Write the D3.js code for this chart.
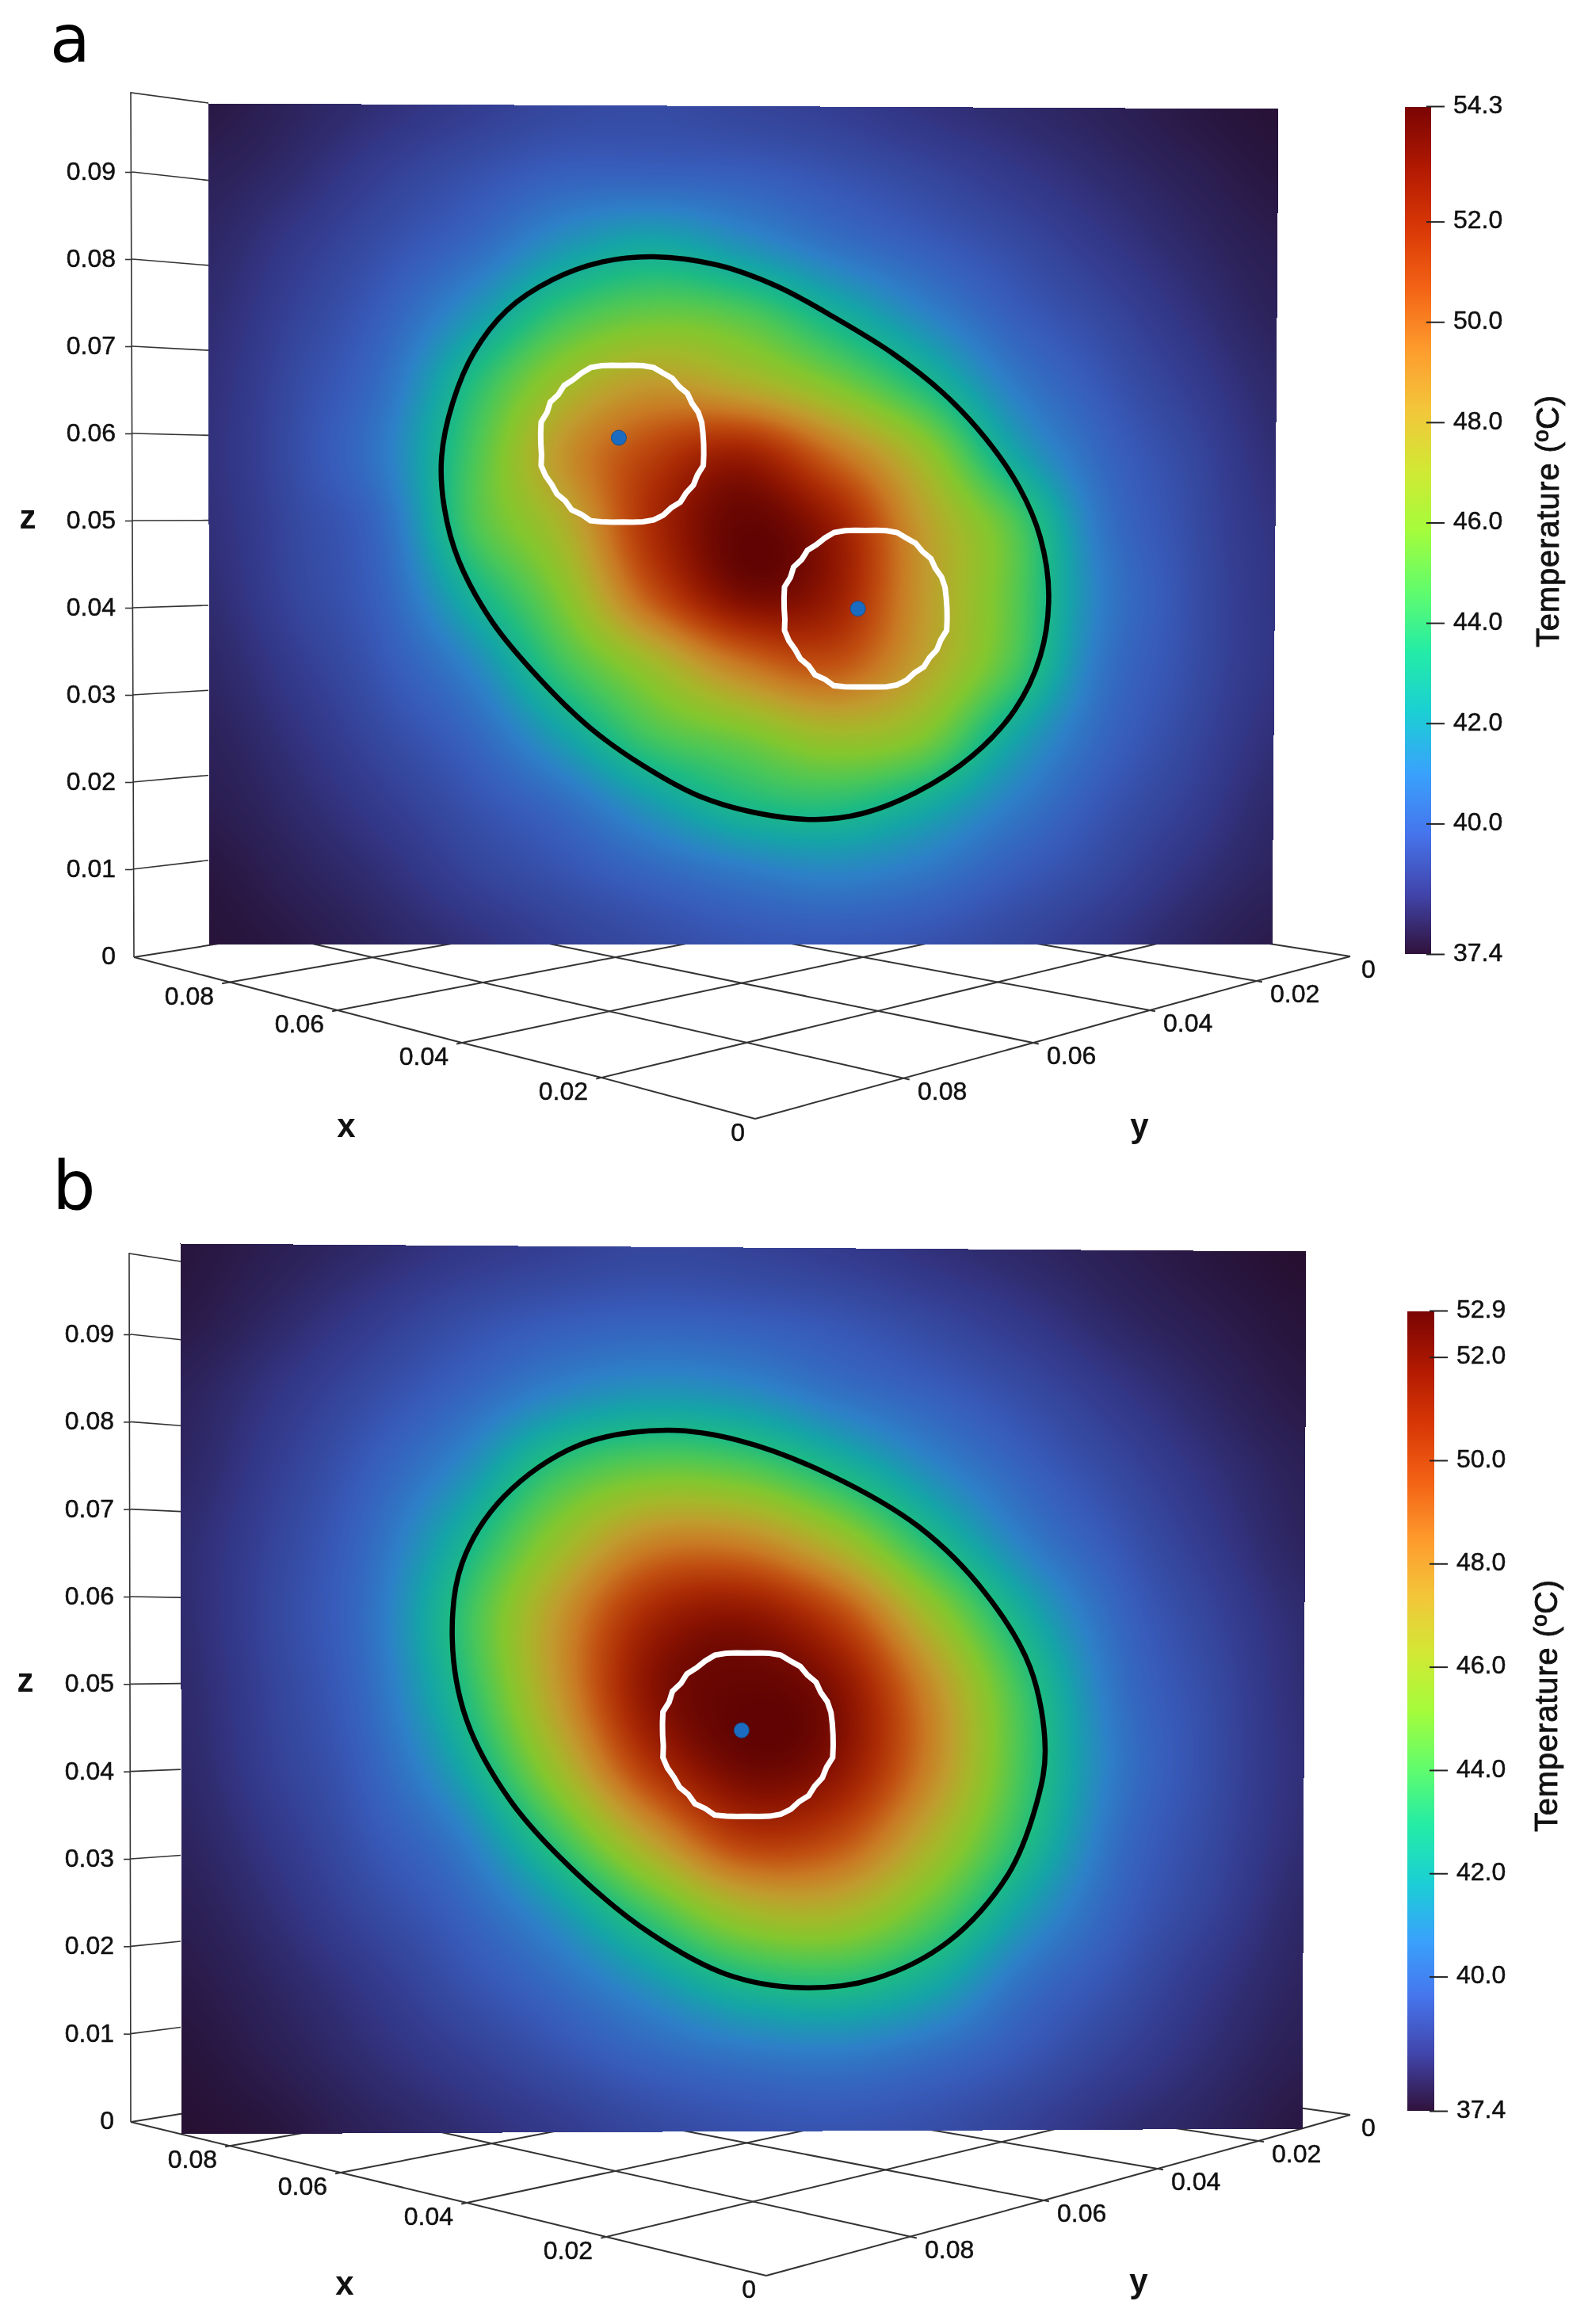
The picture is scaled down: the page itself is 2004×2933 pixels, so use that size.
<!DOCTYPE html>
<html>

<head>
    <meta charset="UTF-8">
    <title>Temperature maps - D3.js</title>
    <script src="https://d3js.org/d3.v7.min.js"></script>
    <style>
        body {
            margin: 0;
            background: white;
        }

        svg {
            display: block;
            filter: blur(0.6px);
        }

        text {
            font-family: "Liberation Sans", Arial, sans-serif;
            fill: #111;
        }

        .tick-label {
            font-size: 32px;
            stroke: #111;
            stroke-width: 0.5px;
        }

        .axis-name {
            font-size: 42px;
            font-weight: bold;
        }

        .panel-letter {
            font-family: "DejaVu Sans", sans-serif;
            fill: black;
        }

        .cbar-title {
            font-size: 40px;
            stroke: #111;
            stroke-width: 0.8px;
        }
    </style>
</head>

<body>
    <div id="chart"></div>

    <script>
        // Temperature (deg C), rows top to bottom, columns left to right
        var tempsA = [
            [37.7, 38.05, 38.4, 38.8, 39.15, 39.25, 39.05, 38.85, 38.5, 38.25, 38.0, 37.7, 37.5],
            [37.95, 38.3, 38.9, 39.45, 39.95, 40.0, 39.9, 39.55, 39.15, 38.7, 38.3, 37.95, 37.65],
            [38.15, 38.7, 39.4, 40.25, 41.7, 42.45, 41.6, 40.6, 39.9, 39.3, 38.7, 38.2, 37.85],
            [38.3, 39.0, 39.95, 41.8, 44.2, 45.3, 44.8, 43.0, 41.3, 39.95, 39.2, 38.5, 38.0],
            [38.4, 39.25, 40.5, 43.7, 46.8, 48.4, 47.6, 45.9, 43.6, 41.0, 39.7, 38.85, 38.2],
            [38.45, 39.35, 40.9, 44.6, 48.6, 51.2, 52.6, 50.0, 46.8, 42.6, 40.25, 39.2, 38.35],
            [38.4, 39.2, 40.4, 44.6, 47.4, 52.0, 54.2, 52.8, 48.4, 45.0, 40.8, 39.35, 38.5],
            [38.3, 39.1, 40.1, 43.0, 46.0, 50.6, 53.6, 52.8, 48.6, 45.2, 41.1, 39.45, 38.55],
            [38.15, 38.8, 39.7, 41.3, 44.3, 46.8, 49.5, 50.6, 48.1, 44.8, 40.8, 39.4, 38.55],
            [38.0, 38.5, 39.25, 40.2, 42.2, 44.5, 45.6, 46.8, 46.0, 42.6, 40.3, 39.2, 38.4],
            [37.85, 38.25, 38.8, 39.5, 40.35, 41.9, 43.3, 43.7, 42.7, 41.0, 39.7, 38.9, 38.2],
            [37.65, 38.0, 38.4, 39.0, 39.5, 40.1, 40.7, 41.1, 40.7, 39.85, 39.2, 38.5, 38.05],
            [37.55, 37.75, 38.1, 38.45, 38.9, 39.25, 39.55, 39.65, 39.5, 39.15, 38.65, 38.15, 37.8]
        ];
        var tempsB = [
            [37.6, 37.85, 38.15, 38.5, 38.75, 38.95, 38.85, 38.65, 38.35, 38.1, 37.85, 37.6, 37.4],
            [37.7, 38.1, 38.6, 39.15, 39.55, 39.75, 39.65, 39.4, 39.0, 38.55, 38.1, 37.8, 37.55],
            [37.95, 38.45, 39.1, 39.85, 40.85, 41.4, 41.15, 40.35, 39.75, 39.15, 38.55, 38.05, 37.7],
            [38.05, 38.7, 39.6, 41.0, 43.4, 44.5, 44.2, 42.7, 41.0, 39.8, 39.0, 38.35, 37.9],
            [38.2, 38.9, 40.0, 42.4, 45.6, 48.1, 48.2, 46.2, 43.1, 40.7, 39.45, 38.6, 38.0],
            [38.2, 39.0, 40.2, 43.4, 47.4, 50.9, 51.8, 50.0, 46.0, 42.3, 39.95, 38.9, 38.2],
            [38.15, 38.9, 40.05, 43.0, 47.4, 51.8, 52.8, 52.0, 48.0, 43.6, 40.3, 39.1, 38.25],
            [38.1, 38.8, 39.75, 42.0, 46.0, 50.5, 52.6, 51.9, 48.2, 43.8, 40.5, 39.15, 38.3],
            [38.0, 38.55, 39.4, 40.65, 43.6, 47.3, 50.3, 49.8, 46.7, 43.2, 40.2, 39.05, 38.25],
            [37.85, 38.3, 39.0, 39.8, 41.35, 43.8, 46.2, 46.5, 44.5, 41.7, 39.8, 38.85, 38.1],
            [37.7, 38.05, 38.55, 39.25, 40.05, 41.3, 42.7, 43.1, 42.1, 40.25, 39.3, 38.5, 38.0],
            [37.55, 37.85, 38.25, 38.7, 39.25, 39.85, 40.3, 40.5, 40.1, 39.45, 38.8, 38.25, 37.85],
            [37.45, 37.6, 37.95, 38.25, 38.6, 39.0, 39.25, 39.35, 39.2, 38.8, 38.3, 38.0, 37.65]
        ];

        // Black isotherm, [position along plate (m), z (m)]
        var isothermA = [[.0526, .0809], [.0602, .0799], [.0672, .0774], [.0742, .0736], [.0807, .0696], [.0867, .0649], [.0917, .0596], [.0957, .0538], [.0982, .0479], [.0992, .0411], [.0982, .0339], [.0952, .0276], [.0902, .0222], [.0836, .0179], [.0772, .0154], [.0717, .0147], [.0651, .0154], [.0581, .0174], [.0511, .0212], [.0451, .0255], [.0392, .0312], [.0336, .0379], [.0296, .0452], [.0279, .0515], [.0276, .0574], [.0289, .0637], [.0314, .0696], [.0353, .0746], [.0407, .0782], [.0466, .0803]];
        var isothermB = [[.0548, .0790], [.0631, .0778], [.0731, .0740], [.0832, .0681], [.0907, .0606], [.0957, .0523], [.0974, .0431], [.0965, .0372], [.0932, .0289], [.0865, .0214], [.0782, .0172], [.0698, .0162], [.0615, .0177], [.0531, .0222], [.0448, .0289], [.0372, .0372], [.0322, .0464], [.0306, .0556], [.0317, .0640], [.0364, .0715], [.0448, .0773]];

        // White rings: radius (m) every 7.5 degrees clockwise from the top
        var ringRadii = [.0092, .0093, .0095, .0097, .0096, .0097, .0095, .0097, .0095, .0097, .0097, .0096, .0096, .0097, .0099, .0096, .0097, .0095, .0097, .0095, .0097, .0097, .0095, .0093,
            .0092, .0093, .0095, .0098, .0096, .0098, .0095, .0097, .0096, .0098, .0099, .0096, .0096, .0097, .0099, .0096, .0098, .0095, .0097, .0095, .0096, .0097, .0095, .0093];
        var ringCentresA = [[.0489, .0589], [.0776, .0395]];
        var ringCentresB = [[.0639, .0447]];
        var probesA = [[.0485, .0596], [.0767, .0395]];
        var probesB = [[.0632, .0452]];

        var floorTicks = [0.08, 0.06, 0.04, 0.02, 0];
        var floorStops = [0, 0.02, 0.04, 0.06, 0.08, 0.099];
        var zTicks = [0, 0.01, 0.02, 0.03, 0.04, 0.05, 0.06, 0.07, 0.08, 0.09];
        var cbarTicksA = [54.3, 52, 50, 48, 46, 44, 42, 40, 37.4];
        var cbarTicksB = [52.9, 52, 50, 48, 46, 44, 42, 40, 37.4];

        // Turbo colour table of the colour bar
        var turboStops = ["#30123b", "#4145ab", "#4675ed", "#39a2fc", "#1bcfd4", "#24eca6", "#61fc6c", "#a4fc3b", "#d1e834", "#f3c63a", "#fe9b2d", "#f36315", "#d93806", "#b11901", "#7a0403"];
        var surfaceShade = 0.79; // the lit plate is duller than the bar

        var panels = [
            {
                letter: "a", letterX: 63, letterY: 78, letterSize: 83,
                temps: tempsA, isotherm: isothermA, rings: ringCentresA, probes: probesA, tMax: 54.3, cbarTicks: cbarTicksA,
                sMax: .1264, zMax: .0987, plateX: [262, 1614.5], plateY: [1192, 133],
                TL: [262, 130], TR: [1613, 137], BR: [1605, 1191], BL: [264, 1192],
                xEdge: [[953, 1412], [759, 1360], [583, 1316], [426, 1275], [287, 1240], [169, 1208]],
                yEdge: [[1704, 1207], [1586, 1238], [1451, 1275], [1304, 1316], [1141, 1361], [953, 1412]],
                vanishX: [3730, 644], vanishY: [-2268, 585],
                zAxisBase: [169, 1208], zAxisTop: [165, 117], zAxisX: 167, zAxisRange: [1207, 217], zEdgeX: 263, zEdgeRange: [1193, 130],
                xName: [437, 1435], yName: [1438, 1435], zName: [35, 667],
                cbarLeft: 1773, cbarRight: 1806, cbarRange: [1204, 134], cbarTickX: 1800, titleX: 1967, titleY: 658
            },
            {
                letter: "b", letterX: 66, letterY: 1526, letterSize: 86,
                temps: tempsB, isotherm: isothermB, rings: ringCentresB, probes: probesB, tMax: 52.9, cbarTicks: cbarTicksB,
                sMax: .1266, zMax: .0999, plateX: [228, 1646], plateY: [2690, 1571],
                TL: [227, 1569], TR: [1648, 1579], BR: [1643, 2686], BL: [229, 2693],
                xEdge: [[967, 2872], [765, 2823], [589, 2780], [430, 2742], [291, 2708], [165, 2678]],
                yEdge: [[1704, 2669], [1588, 2702], [1461, 2737], [1317, 2777], [1150, 2823], [967, 2872]],
                vanishX: [3864, 2079], vanishY: [-1546, 2223],
                zAxisBase: [165, 2678], zAxisTop: [163, 1582], zAxisX: 165, zAxisRange: [2677, 1684], zEdgeX: 228, zEdgeRange: [2667, 1592],
                xName: [435, 2896], yName: [1437, 2893], zName: [32, 2135],
                cbarLeft: 1776, cbarRight: 1810, cbarRange: [2664, 1654], cbarTickX: 1804, titleX: 1965, titleY: 2153
            }
        ];

        var svg = d3.select("#chart")
            .append("svg")
            .attr("width", 2004)
            .attr("height", 2933);

        var colourOf = d3.scaleLinear()
            .domain(turboStops.map(function (d, i) { return i / (turboStops.length - 1); }))
            .range(turboStops)
            .clamp(true);

        function lerp(a, b, t) { return a + (b - a) * t; }

        // smooth shading between the read values, like the scalar interpolation of the renderer
        function catmull(p0, p1, p2, p3, t) {
            return p1 + 0.5 * t * (p2 - p0 + t * (2 * p0 - 5 * p1 + 4 * p2 - p3 + t * (3 * (p1 - p2) + p3 - p0)));
        }

        function sampleField(grid, col, row) {
            var n = grid.length - 1;
            var c = Math.min(Math.floor(col), n - 1), r = Math.min(Math.floor(row), n - 1);
            var tc = col - c, tr = row - r;
            var vals = [];
            for (var j = -1; j <= 2; j++) {
                var line = grid[Math.max(0, Math.min(n, r + j))];
                vals.push(catmull(
                    line[Math.max(0, c - 1)], line[c], line[Math.min(n, c + 1)], line[Math.min(n, c + 2)], tc));
            }
            return catmull(vals[0], vals[1], vals[2], vals[3], tr);
        }

        function drawPlate(g, p) {
            var tempToFrac = d3.scaleLinear().domain([37.4, p.tMax]).range([0, 1]).clamp(true);
            var lut = d3.range(1024).map(function (i) {
                var c = d3.rgb(colourOf(i / 1023));
                return [c.r * surfaceShade, c.g * surfaceShade, c.b * surfaceShade];
            });

            var x0 = Math.min(p.TL[0], p.BL[0]), x1 = Math.max(p.TR[0], p.BR[0]);
            var y0 = Math.min(p.TL[1], p.TR[1]), y1 = Math.max(p.BL[1], p.BR[1]);
            var w = x1 - x0 + 1, h = y1 - y0 + 1;
            var canvas = document.createElement("canvas");
            canvas.width = w;
            canvas.height = h;
            var ctx = canvas.getContext("2d");
            var img = ctx.createImageData(w, h);
            var n = p.temps.length - 1;

            for (var py = 0; py < h; py++) {
                for (var px = 0; px < w; px++) {
                    var X = px + x0, Y = py + y0;
                    var u = px / w, v = 1 - py / h;
                    for (var k = 0; k < 3; k++) {
                        var xL = lerp(p.BL[0], p.TL[0], v), xR = lerp(p.BR[0], p.TR[0], v);
                        u = (X - xL) / (xR - xL);
                        var yB = lerp(p.BL[1], p.BR[1], u), yT = lerp(p.TL[1], p.TR[1], u);
                        v = (yB - Y) / (yB - yT);
                    }
                    if (u < 0 || u > 1 || v < 0 || v > 1) continue;
                    var t = sampleField(p.temps, u * n, (1 - v) * n);
                    var c = lut[Math.round(tempToFrac(t) * 1023)];
                    var o = (py * w + px) * 4;
                    img.data[o] = c[0];
                    img.data[o + 1] = c[1];
                    img.data[o + 2] = c[2];
                    img.data[o + 3] = 255;
                }
            }
            ctx.putImageData(img, 0, 0);

            g.append("image")
                .attr("x", x0)
                .attr("y", y0)
                .attr("width", w)
                .attr("height", h)
                .attr("href", canvas.toDataURL());
        }

        function drawPanel(p) {
            var g = svg.append("g");
            var sScale = d3.scaleLinear().domain([0, p.sMax]).range(p.plateX);
            var zScale = d3.scaleLinear().domain([0, p.zMax]).range(p.plateY);

            // plate coordinates (m) to picture position
            function project(d) {
                return [sScale(d[0]), zScale(d[1])];
            }

            var xEdge = d3.scaleLinear().domain(floorStops).range(p.xEdge);
            var yEdge = d3.scaleLinear().domain(floorStops).range(p.yEdge);
            var zAxisScale = d3.scaleLinear().domain([0, 0.09]).range(p.zAxisRange);
            var zEdgeScale = d3.scaleLinear().domain([0, 0.0991]).range(p.zEdgeRange);

            // floor lines run toward their vanishing point, the plate hides the far part
            function floorLine(start, vanish, extra) {
                var endY = Math.min(p.BL[1] - 6, start[1] - 25);
                var t = (endY - start[1]) / (vanish[1] - start[1]);
                var len = Math.hypot(vanish[0] - start[0], vanish[1] - start[1]);
                var back = extra / len;
                return [
                    [start[0] - (vanish[0] - start[0]) * back, start[1] - (vanish[1] - start[1]) * back],
                    [start[0] + (vanish[0] - start[0]) * t, start[1] + (vanish[1] - start[1]) * t]
                ];
            }

            var line = d3.line();
            var floor = g.append("g")
                .attr("fill", "none")
                .attr("stroke", "#333")
                .attr("stroke-width", 2);

            floor.append("path").attr("d", line(floorStops.map(function (d) { return xEdge(d); })));
            floor.append("path").attr("d", line(floorStops.map(function (d) { return yEdge(d); })));

            floorTicks.filter(function (d) { return d > 0; }).forEach(function (d) {
                floor.append("path").attr("d", line(floorLine(xEdge(d), p.vanishX, 7)));
                floor.append("path").attr("d", line(floorLine(yEdge(d), p.vanishY, 7)));
            });
            floor.append("path").attr("d", line(floorLine(xEdge(0.099), p.vanishX, 0)));
            floor.append("path").attr("d", line(floorLine(yEdge(0), p.vanishY, 0)));

            g.selectAll(".x-label")
                .data(floorTicks)
                .enter()
                .append("text")
                .attr("class", "tick-label")
                .attr("x", function (d) { return xEdge(d)[0] - (d === 0 ? 13 : 17); })
                .attr("y", function (d) { return xEdge(d)[1] + 28; })
                .attr("text-anchor", "end")
                .text(function (d) { return String(d); });

            g.selectAll(".y-label")
                .data(floorTicks)
                .enter()
                .append("text")
                .attr("class", "tick-label")
                .attr("x", function (d) { return yEdge(d)[0] + (d === 0 ? 14 : 17); })
                .attr("y", function (d) { return yEdge(d)[1] + 27; })
                .text(function (d) { return String(d); });

            // z axis
            var walls = g.append("g")
                .attr("fill", "none")
                .attr("stroke", "#333")
                .attr("stroke-width", 1.6);

            walls.append("path").attr("d", line([p.zAxisBase, p.zAxisTop, [p.zEdgeX, p.zEdgeRange[1]]]));

            zTicks.filter(function (d) { return d > 0; }).forEach(function (d) {
                walls.append("path").attr("d", line([[p.zAxisX, zAxisScale(d)], [p.zEdgeX, zEdgeScale(d)]]));
            });

            var zAxis = d3.axisLeft(zAxisScale)
                .tickValues(zTicks)
                .tickSize(9)
                .tickPadding(12)
                .tickFormat(function (d) { return String(d); });

            var zG = g.append("g")
                .attr("transform", "translate(" + p.zAxisX + ",0)")
                .call(zAxis);
            zG.select(".domain").remove();
            zG.selectAll("line").attr("stroke", "#333").attr("stroke-width", 1.6);
            zG.selectAll(".tick").filter(function (d) { return d === 0; }).select("line").remove();
            zG.selectAll("text").attr("class", "tick-label").attr("dy", "0.3em");

            drawPlate(g, p);

            // black isotherm
            g.append("path")
                .attr("d", d3.line().curve(d3.curveCatmullRomClosed.alpha(0.5))(p.isotherm.map(project)))
                .attr("fill", "none")
                .attr("stroke", "black")
                .attr("stroke-width", 6.5);

            // white rings around the probes
            p.rings.forEach(function (centre) {
                var pts = ringRadii.map(function (r, i) {
                    var a = i / ringRadii.length * 2 * Math.PI;
                    return project([centre[0] + r * Math.sin(a), centre[1] + r * Math.cos(a)]);
                });
                g.append("path")
                    .attr("d", d3.line().curve(d3.curveLinearClosed)(pts))
                    .attr("fill", "none")
                    .attr("stroke", "white")
                    .attr("stroke-width", 7);
            });

            g.selectAll(".probe")
                .data(p.probes)
                .enter()
                .append("circle")
                .attr("cx", function (d) { return project(d)[0]; })
                .attr("cy", function (d) { return project(d)[1]; })
                .attr("r", 9.5)
                .attr("fill", "#1b6cc0")
                .attr("stroke", "#16508f")
                .attr("stroke-width", 1);

            // axis names and panel letter
            [["x", p.xName], ["y", p.yName], ["z", p.zName]].forEach(function (d) {
                g.append("text")
                    .attr("class", "axis-name")
                    .attr("x", d[1][0])
                    .attr("y", d[1][1])
                    .attr("text-anchor", "middle")
                    .text(d[0]);
            });

            g.append("text")
                .attr("class", "panel-letter")
                .attr("x", p.letterX)
                .attr("y", p.letterY)
                .style("font-size", p.letterSize + "px")
                .text(p.letter);

            // colour bar
            var gradId = "bar-" + p.letter;
            var grad = g.append("linearGradient")
                .attr("id", gradId)
                .attr("x1", 0).attr("x2", 0)
                .attr("y1", 1).attr("y2", 0);
            grad.selectAll("stop")
                .data(turboStops)
                .enter()
                .append("stop")
                .attr("offset", function (d, i) { return i / (turboStops.length - 1); })
                .attr("stop-color", function (d) { return d; });

            var cbarScale = d3.scaleLinear().domain([37.4, p.tMax]).range(p.cbarRange);

            g.append("rect")
                .attr("x", p.cbarLeft)
                .attr("y", p.cbarRange[1] + 1)
                .attr("width", p.cbarRight - p.cbarLeft)
                .attr("height", p.cbarRange[0] - p.cbarRange[1] - 1)
                .attr("fill", "url(#" + gradId + ")");

            var cbarAxis = d3.axisRight(cbarScale)
                .tickValues(p.cbarTicks)
                .tickSize(23)
                .tickPadding(11)
                .tickFormat(d3.format(".1f"));

            var cG = g.append("g")
                .attr("transform", "translate(" + p.cbarTickX + ",0)")
                .call(cbarAxis);
            cG.select(".domain").remove();
            cG.selectAll("line").attr("stroke", "#222").attr("stroke-width", 2);
            cG.selectAll("text").attr("class", "tick-label").attr("dy", "0.26em");

            g.append("text")
                .attr("class", "cbar-title")
                .attr("transform", "translate(" + p.titleX + "," + p.titleY + ") rotate(-90)")
                .attr("text-anchor", "middle")
                .attr("textLength", 318)
                .text("Temperature (ºC)");
        }

        panels.forEach(drawPanel);
    </script>
</body>

</html>
